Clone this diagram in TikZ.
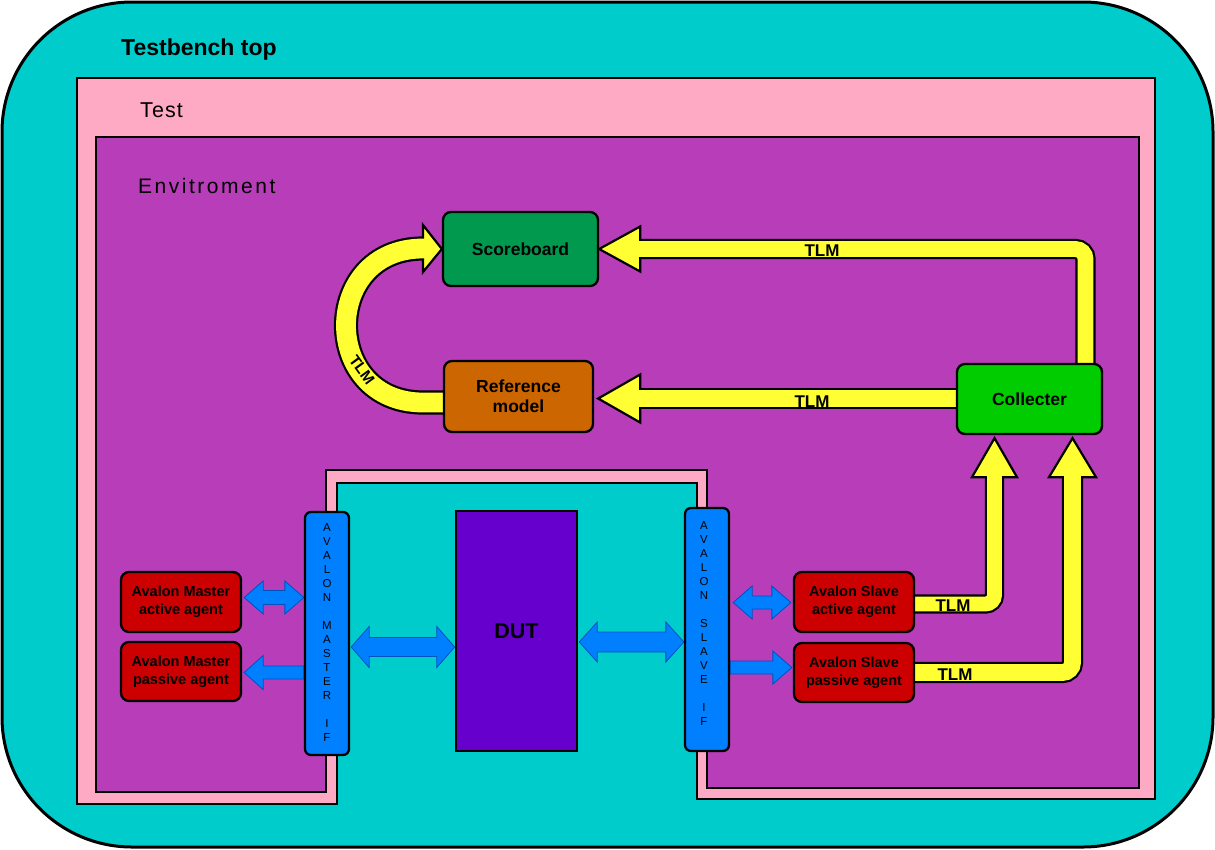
\documentclass[tikz,border=0pt]{standalone}
\usepackage{fontspec}
\setmainfont{Liberation Sans}
\usetikzlibrary{calc}
\pgfdeclarelayer{regions}
\pgfdeclarelayer{arrows}
\pgfsetlayers{regions,arrows,main}

\definecolor{cyanbg}{RGB}{0,204,204}
\definecolor{testpink}{RGB}{255,170,196}
\definecolor{envpurple}{RGB}{184,61,184}
\definecolor{sbgreen}{RGB}{0,153,77}
\definecolor{reforange}{RGB}{204,102,0}
\definecolor{collgreen}{RGB}{0,204,0}
\definecolor{dutpurple}{RGB}{102,0,204}
\definecolor{ifblue}{RGB}{0,127,255}
\definecolor{bluedark}{RGB}{0,80,190}
\definecolor{agentred}{RGB}{204,0,0}
\definecolor{tlmyellow}{RGB}{255,255,51}

\tikzset{
  box/.style={draw=black, line width=2.3pt, rounded corners=8pt, inner sep=0pt, align=center,
    font=\fontsize{17.5}{20}\selectfont\bfseries},
  agent/.style={box, fill=agentred, minimum width=120pt, minimum height=60pt,
    font=\fontsize{14.5}{18}\selectfont\bfseries},
  ifbox/.style={draw=black, line width=2.3pt, rounded corners=6pt, fill=ifblue,
    minimum width=44pt, minimum height=243pt, inner sep=0pt},
  iftext/.style={font=\fontsize{11.5}{14}\selectfont, align=center, inner sep=0pt},
  tlm/.style={font=\fontsize{17}{17}\selectfont\bfseries, inner sep=0pt, anchor=base},
  region/.style={draw=black, line width=2pt},
  yout/.style={draw=black, line width={#1pt+2.2pt}},
  yin/.style={draw=tlmyellow, line width={#1pt-2.2pt}},
  yhead/.style={fill=tlmyellow, draw=black, line width=2.2pt, line join=miter},
  bluearr/.style={fill=ifblue, draw=bluedark, line width=0.8pt, line join=miter},
}

% double-headed fat arrow: #1 left tip, #2 right tip, #3 shaft half, #4 head half, #5 head length
\newcommand\dblarr[5]{%
  \draw[bluearr] (#1) -- ($(#1)+(#5,-#4)$) -- ($(#1)+(#5,-#3)$) -- ($(#2)+(-#5,-#3)$)
    -- ($(#2)+(-#5,-#4)$) -- (#2) -- ($(#2)+(-#5,#4)$) -- ($(#2)+(-#5,#3)$)
    -- ($(#1)+(#5,#3)$) -- ($(#1)+(#5,#4)$) -- cycle;}
% single-headed fat arrow: #1 tip, #2 tail, #3 shaft half, #4 head half, #5 signed head length
\newcommand\sglarr[5]{%
  \draw[bluearr] (#1) -- ($(#1)+(#5,-#4)$) -- ($(#1)+(#5,-#3)$) -- ($(#2)+(0,-#3)$)
    -- ($(#2)+(0,#3)$) -- ($(#1)+(#5,#3)$) -- ($(#1)+(#5,#4)$) -- cycle;}

\begin{document}
\begin{tikzpicture}[x=1pt, y=-1pt]
\useasboundingbox (0,0) rectangle (1215,849);

% ---------- regions ----------
\begin{pgfonlayer}{regions}
\draw[fill=cyanbg, line width=3pt, rounded corners=130pt] (2,2) rectangle (1213,847);
\draw[region, fill=testpink] (77,78) -- (1155,78) -- (1155,799) -- (697,799) -- (697,483)
  -- (337,483) -- (337,804) -- (77,804) -- cycle;
\draw[region, fill=envpurple] (96,137) -- (1139,137) -- (1139,788) -- (707,788) -- (707,470)
  -- (326,470) -- (326,792) -- (96,792) -- cycle;
\end{pgfonlayer}

\node[anchor=base west, inner sep=0pt, font=\fontsize{23}{27}\selectfont\bfseries] (ttop) at (121,55) {Testbench top};
\node[anchor=base west, inner sep=0pt, font=\fontsize{21.5}{26}\selectfont\addfontfeature{LetterSpace=5}] (ttest) at (140,117) {Test};
\node[anchor=base west, inner sep=0pt, font=\fontsize{21}{25}\selectfont\addfontfeature{LetterSpace=12}] (tenv) at (138,193) {Envitroment};

% ---------- nodes ----------
\node[box, fill=sbgreen, minimum width=155pt, minimum height=74pt] (sb) at (520.5,249) {Scoreboard};
\node[box, fill=reforange, minimum width=149pt, minimum height=71pt] (ref) at (518.5,396.5) {Reference\\model};
\node[box, fill=collgreen, minimum width=145pt, minimum height=70pt] (coll) at (1029.5,399) {Collecter};
\node[draw=black, line width=2.5pt, fill=dutpurple, minimum width=121pt, minimum height=240pt,
  inner sep=0pt, font=\fontsize{21.5}{24}\selectfont\bfseries] (dut) at (516.5,631) {DUT};
\node[ifbox] (mif) at (327,633.5) {};
\node[ifbox] (sif) at (707,629.5) {};
\node[iftext] (miftxt) at (327,633) {A\\V\\A\\L\\O\\N\\[14pt]M\\A\\S\\T\\E\\R\\[14pt]I\\F};
\node[iftext] (siftxt) at (704,624) {A\\V\\A\\L\\O\\N\\[14pt]S\\L\\A\\V\\E\\[14pt]I\\F};
\node[agent] (mact) at (181,602) {Avalon Master\\active agent};
\node[agent, minimum height=59pt] (mpas) at (181,671.5) {Avalon Master\\passive agent};
\node[agent] (sact) at (854,602) {Avalon Slave\\active agent};
\node[agent, minimum height=59pt] (spas) at (854,672.5) {Avalon Slave\\passive agent};

% ---------- TLM (yellow) arrows ----------
\coordinate (a0) at ($(coll.north -| 1085.5,0)+(0,3)$);
\coordinate (a1) at (1085.5,249);
\coordinate (a2) at ($(sb.east)+(41,0)$);
\coordinate (btip) at ($(ref.east)+(4,2)$);
\coordinate (b0) at ($(coll.west |- btip)+(3,0)$);
\coordinate (b2) at ($(btip)+(42,0)$);
\coordinate (c0) at ($(ref.west)+(3,6)$);
\coordinate (c1) at (423,402.5);
\coordinate (c2) at (423,248.5);
\coordinate (ctip) at (sb.west);
\coordinate (d0) at ($(sact.east)+(-3,2)$);
\coordinate (d1) at (994.5,604);
\coordinate (dtip) at ($(coll.south -| d1)+(0,3)$);
\coordinate (d2) at ($(dtip)+(0,39)$);
\coordinate (e0) at ($(spas.east)+(-3,0)$);
\coordinate (e1) at (1072.5,672.5);
\coordinate (etip) at ($(coll.south -| e1)+(0,3)$);
\coordinate (e2) at ($(etip)+(0,39)$);

\begin{pgfonlayer}{arrows}
% Collecter -> Scoreboard
\draw[yout=18, rounded corners=10pt] (a0) -- (a1) -- (a2);
\draw[yhead] (sb.east) -- ($(a2)+(0,-22.5)$) -- ($(a2)+(0,22.5)$) -- cycle;
\draw[yin=18, rounded corners=10pt] (a0) -- (a1) -- ($(a2)+(-3,0)$);
% Collecter -> Reference model
\draw[yout=19] (b0) -- (b2);
\draw[yhead] (btip) -- ($(b2)+(0,-24)$) -- ($(b2)+(0,24)$) -- cycle;
\draw[yin=19] (b0) -- ($(b2)+(-3,0)$);
% Reference model -> Scoreboard (curved)
\draw[yout=22] (c0) -- (c1) .. controls (320.33,402.5) and (320.33,248.5) .. (c2);
\draw[yhead] (ctip) -- ($(c2)+(0,-23.5)$) -- ($(c2)+(0,23.5)$) -- cycle;
\draw[yin=22] (c0) -- (c1) .. controls (320.33,402.5) and (320.33,248.5) .. (c2) -- ($(c2)+(3,0)$);
% Slave active agent -> Collecter
\draw[yout=17, rounded corners=9pt] (d0) -- (d1) -- (d2);
\draw[yhead] (dtip) -- ($(d2)+(-22.5,0)$) -- ($(d2)+(22.5,0)$) -- cycle;
\draw[yin=17, rounded corners=9pt] (d0) -- (d1) -- ($(d2)+(0,-3)$);
% Slave passive agent -> Collecter
\draw[yout=19, rounded corners=10pt] (e0) -- (e1) -- (e2);
\draw[yhead] (etip) -- ($(e2)+(-23.5,0)$) -- ($(e2)+(23.5,0)$) -- cycle;
\draw[yin=19, rounded corners=10pt] (e0) -- (e1) -- ($(e2)+(0,-3)$);

% ---------- blue arrows ----------
\coordinate (m1l) at ($(mact.east)+(2,-4.5)$);
\coordinate (m1r) at (mif.west |- m1l);
\dblarr{m1l}{m1r}{7}{16.5}{19}
\coordinate (m2t) at ($(mpas.east)+(2,1)$);
\coordinate (m2s) at (mif.west |- m2t);
\sglarr{m2t}{m2s}{6.5}{17}{19}
\coordinate (m3l) at ($(mif.east)+(1,13.5)$);
\coordinate (m3r) at (dut.west |- m3l);
\dblarr{m3l}{m3r}{9.5}{20.5}{18}
\coordinate (s3l) at ($(dut.east)+(1,11)$);
\coordinate (s3r) at (sif.west |- s3l);
\dblarr{s3l}{s3r}{10}{20}{18}
\coordinate (s1l) at ($(sif.east |- sact.west)+(3,0.5)$);
\coordinate (s1r) at ($(sact.west)+(-2,0.5)$);
\dblarr{s1l}{s1r}{6.5}{16.5}{19}
\coordinate (s2t) at ($(spas.west)+(-1,-5)$);
\coordinate (s2s) at (sif.east |- s2t);
\sglarr{s2t}{s2s}{6.5}{16.5}{-19}
\end{pgfonlayer}

% ---------- TLM labels ----------
\node[tlm] (tlmA) at (822,256) {TLM};
\node[tlm] (tlmB) at (812,407) {TLM};
\node[tlm] (tlmD) at (953,611) {TLM};
\node[tlm] (tlmE) at (955,680) {TLM};
\node[font=\fontsize{15.5}{15.5}\selectfont\bfseries, inner sep=0pt, rotate=-54] (tlmC) at (362,370) {TLM};
\end{tikzpicture}
\end{document}
